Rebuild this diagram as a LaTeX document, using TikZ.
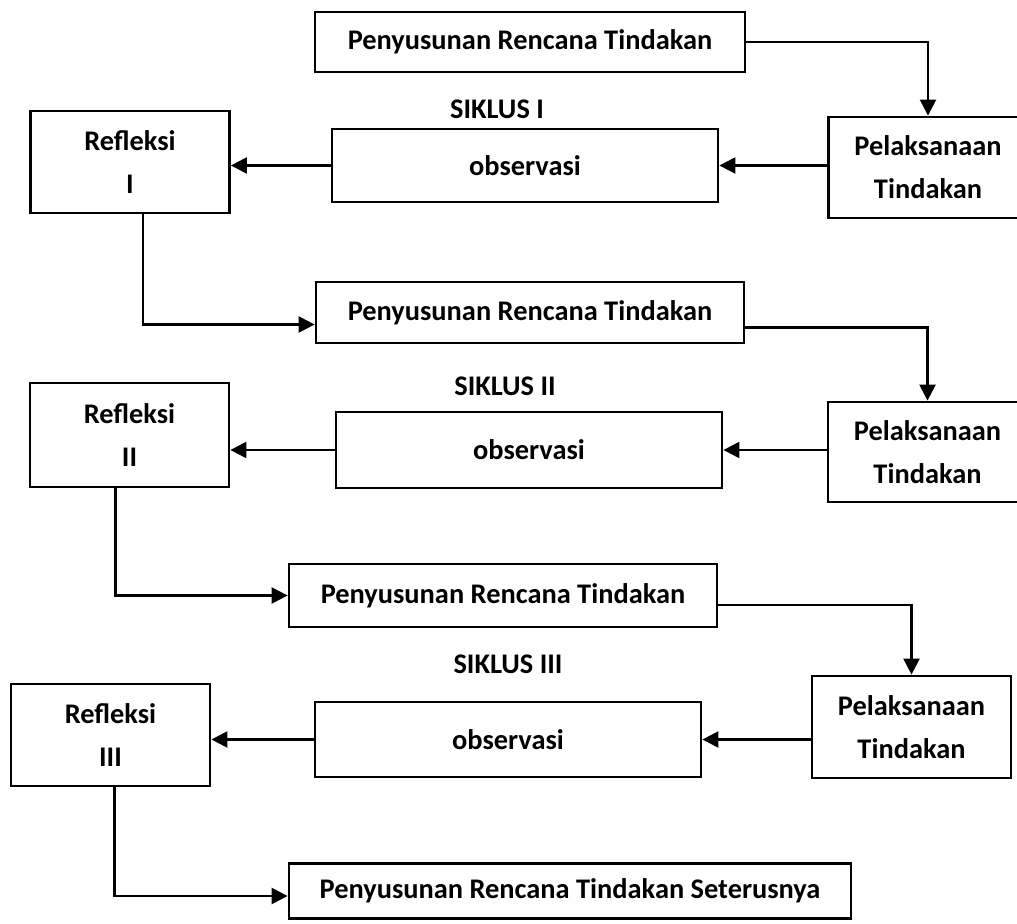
\documentclass[tikz,border=0pt]{standalone}
\usepackage{fontspec}
\setmainfont{Carlito}
\usetikzlibrary{arrows.meta}

\begin{document}
\begin{tikzpicture}[x=0.5pt,y=-0.5pt,
                   box/.style={draw,line width=1.4pt,inner sep=0pt,align=center,font=\bfseries\fontsize{14.2}{21.5}\selectfont},
                   penbox/.style={box,minimum width=214pt,minimum height=30.5pt},
                   smallbox/.style={box,minimum width=99.5pt,minimum height=51pt},
                   obsbox/.style={box,minimum width=193pt,minimum height=37pt},
                   siklus/.style={font=\bfseries\fontsize{14.2}{16}\selectfont},
                   arr/.style={line width=1.2pt,-{Triangle[length=8pt,width=8pt]}}]
\useasboundingbox (0,0) rectangle (1017,924);
% siklus I
\node[penbox,minimum width=215pt,minimum height=30pt] (pen1) at (530,42) {Penyusunan Rencana Tindakan};
\node[siklus] (sik1) at (497,109) {SIKLUS I};
\node[smallbox,minimum height=50.5pt] (pel1) at (928,167.5) {Pelaksanaan\\Tindakan};
\node[obsbox,minimum height=36.5pt] (obs1) at (525,165.5) {observasi};
\node[smallbox] (ref1) at (130,162) {Refleksi\\I};
% siklus II
\node[penbox] (pen2) at (530,312.5) {Penyusunan Rencana Tindakan};
\node[siklus] (sik2) at (505,386) {SIKLUS II};
\node[smallbox,minimum height=50pt] (pel2) at (927.5,452) {Pelaksanaan\\Tindakan};
\node[obsbox,minimum height=38pt] (obs2) at (529,450) {observasi};
\node[smallbox,minimum height=52pt] (ref2) at (129.5,435) {Refleksi\\II};
% siklus III
\node[penbox,minimum height=31.5pt] (pen3) at (503,595.5) {Penyusunan Rencana Tindakan};
\node[siklus] (sik3) at (508,664) {SIKLUS III};
\node[smallbox] (pel3) at (911.5,727) {Pelaksanaan\\Tindakan};
\node[obsbox,minimum height=37.5pt] (obs3) at (508,739.5) {observasi};
\node[smallbox] (ref3) at (110.5,735) {Refleksi\\III};
\node[box,minimum width=281pt,minimum height=27.5pt] (fin) at (570,891) {Penyusunan Rencana Tindakan Seterusnya};
% connectors
\draw[arr] (pen1.east) -| (pel1.north);
\draw[arr] (pel1.west |- obs1) -- (obs1.east);
\draw[arr] (obs1.west) -- (obs1.west -| ref1.east);
\draw[arr] ([xshift=6.5pt]ref1.south) |- ([yshift=-6pt]pen2.west);
\draw[arr] ([yshift=-7.5pt]pen2.east) -| (pel2.north);
\draw[arr] (pel2.west |- obs2) -- (obs2.east);
\draw[arr] (obs2.west) -- (obs2.west -| ref2.east);
\draw[arr] ([xshift=-7pt]ref2.south) |- (pen3.west);
\draw[arr] ([yshift=-4.75pt]pen3.east) -| (pel3.north);
\draw[arr] (pel3.west |- obs3) -- (obs3.east);
\draw[arr] (obs3.west) -- (obs3.west -| ref3.east);
\draw[arr] ([xshift=2pt]ref3.south) |- ([yshift=-2.5pt]fin.west);
\end{tikzpicture}
\end{document}
